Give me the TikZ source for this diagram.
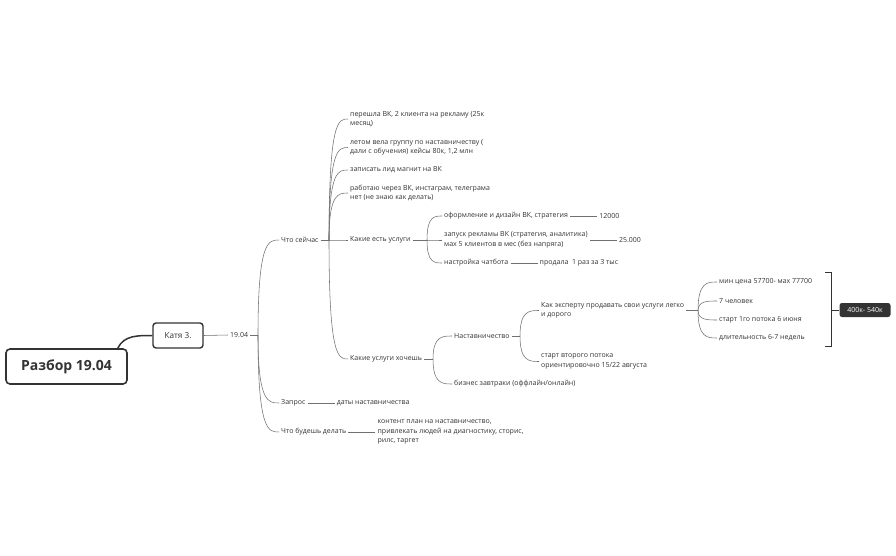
\documentclass[tikz,border=0pt]{standalone}
\usepackage{fontspec}
\setmainfont{Open Sans}
\usepackage{xcolor}
\usetikzlibrary{positioning,calc}

\definecolor{ink}{HTML}{333333}
\definecolor{wire}{HTML}{707070}

\begin{document}
\begin{tikzpicture}[
  x=1pt, y=1pt,
  font=\fontsize{7}{9.4}\selectfont,
  leaf/.style    = {anchor=west, inner xsep=2pt, inner ysep=1pt,
                    align=left, text=ink},
  rootbox/.style = {draw=ink, line width=1.6pt, rounded corners=4pt,
                    minimum width=121pt, minimum height=35pt, text=ink,
                    font=\fontsize{14}{16}\selectfont\bfseries},
  subbox/.style  = {draw=ink, line width=1.4pt, rounded corners=3pt,
                    minimum width=50pt, minimum height=25pt, text=ink,
                    font=\fontsize{8.2}{10}\selectfont},
  tagbox/.style  = {fill=ink, text=white, rounded corners=2.5pt,
                    minimum width=51pt, minimum height=14pt, inner sep=1pt},
  wire/.style    = {draw=wire, line width=0.55pt},
  brch/.style    = {wire, to path={.. controls (\tikztostart |- \tikztotarget)
                    and ($(\tikztostart |- \tikztotarget)!0.5!(\tikztotarget)$)
                    .. (\tikztotarget)}}
]
\useasboundingbox (0,0) rectangle (896,555);
%% -- Root and first level --
\node[rootbox]        (root) at (66.5,188.5) {Разбор 19.04};
\node[subbox]         (kat)  at (178,219.5)  {Катя 3.};
\node[leaf]           (date) at (228,220)    {19.04};
\draw[draw=ink, line width=1.5pt]
  ([xshift=-10pt]root.north east) to[out=65,in=180] (kat.west);
\draw[wire] (kat.east) -- (date.west);
%% -- Topics --
\node[leaf] (now)  at (279,315) {Что сейчас};
\node[leaf] (ask)  at (279,152) {Запрос};
\node[leaf] (todo) at (279,123) {Что будешь делать};
\node[leaf, right=27pt of ask]  (askv)  {даты наставничества};
\node[leaf, right=27pt of todo] (todov) {контент план на наставничество,\\
  привлекать людей на диагностику, сторис,\\рилс, таргет};
\coordinate (jd) at (258,220);
\draw[wire] (date.east) -- (jd);
\foreach \nd in {now,ask,todo}{\draw[brch] (jd) to (\nd.west);}
\draw[wire] (ask.east) -- (askv.west);
\draw[wire] (todo.east) -- (todov.west);
%% -- Что сейчас --
\node[leaf] (p1)   at (348,436)   {перешла ВК, 2 клиента на рекламу (25к\\месяц)};
\node[leaf] (p2)   at (348,407.5) {летом вела группу по наставничеству (\\
  дали с обучения) кейсы 80к, 1,2 млн};
\node[leaf] (p3)   at (348,385)   {записать лид магнит на ВК};
\node[leaf] (p4)   at (348,362)   {работаю через ВК, инстаграм, телеграма\\
  нет (не знаю как делать)};
\node[leaf] (svc)  at (348,315)   {Какие есть услуги};
\node[leaf] (want) at (348,196)   {Какие услуги хочешь};
\coordinate (jn) at (329,315);
\draw[wire] (now.east) -- (jn);
\foreach \nd in {p1,p2,p3,p4,svc,want}{\draw[brch] (jn) to (\nd.west);}
%% -- Какие есть услуги --
\node[leaf] (s1) at (442,339) {оформление и дизайн ВК, стратегия};
\node[leaf] (s2) at (442,315) {запуск рекламы ВК (стратегия, аналитика)\\
  мах 5 клиентов в мес (без напряга)};
\node[leaf] (s3) at (442,292) {настройка чатбота};
\node[leaf, right=27pt of s1] (s1v) {12000};
\node[leaf, right=27pt of s2] (s2v) {25.000};
\node[leaf, right=27pt of s3] (s3v) {продала~ 1 раз за 3 тыс};
\coordinate (js) at (427,315);
\draw[wire] (svc.east) -- (js);
\foreach \nd in {s1,s2,s3}{\draw[brch] (js) to (\nd.west);}
\foreach \nd in {s1,s2,s3}{\draw[wire] (\nd.east) -- (\nd v.west);}
%% -- Какие услуги хочешь --
\node[leaf] (mnt) at (452,219) {Наставничество};
\node[leaf] (brk) at (452,171) {бизнес завтраки (оффлайн/онлайн)};
\coordinate (jw) at (433,196);
\draw[wire] (want.east) -- (jw);
\foreach \nd in {mnt,brk}{\draw[brch] (jw) to (\nd.west);}
\node[leaf] (how) at (539,244.5) {Как эксперту продавать свои услуги легко\\и дорого};
\node[leaf] (fl2) at (539,193.5) {старт второго потока\\ориентировочно 15/22 августа};
\coordinate (jm) at (520,219);
\draw[wire] (mnt.east) -- (jm);
\foreach \nd in {how,fl2}{\draw[brch] (jm) to (\nd.west);}
%% -- Details --
\node[leaf] (h1) at (717,273) {мин цена 57700- мах 77700};
\node[leaf] (h2) at (717,254) {7 человек};
\node[leaf] (h3) at (717,235) {старт 1го потока 6 июня};
\node[leaf] (h4) at (717,217) {длительность 6-7 недель};
\coordinate (jh) at (698,244.5);
\draw[wire] (how.east) -- (jh);
\foreach \nd in {h1,h2,h3,h4}{\draw[brch] (jh) to (\nd.west);}
%% -- Summary --
\node[tagbox] (sum) at (865,245) {400к- 540к};
\coordinate (bt) at (831,283);
\coordinate (bb) at (831,209);
\coordinate (bm) at (831,245);
\draw[draw=ink, line width=0.9pt] ([xshift=-6pt]bt) -- (bt) -- (bb) -- ([xshift=-6pt]bb);
\draw[draw=ink, line width=0.9pt] (bm) -- (sum.west);
\end{tikzpicture}
\end{document}
